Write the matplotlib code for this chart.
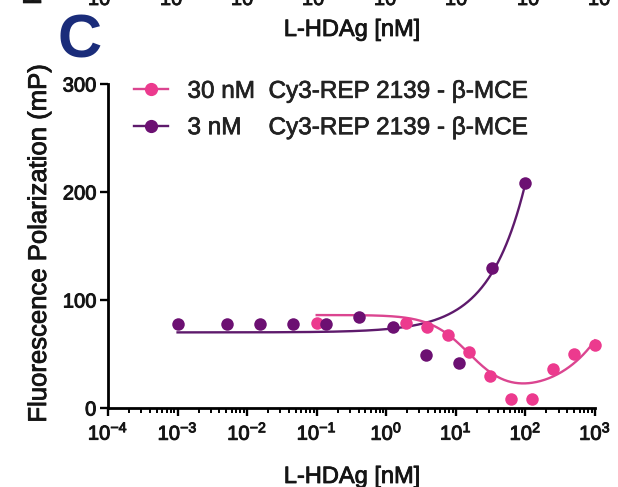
import numpy as np
import matplotlib
matplotlib.use("Agg")
import matplotlib.pyplot as plt
import matplotlib.patheffects as pe
from matplotlib.ticker import LogLocator, NullFormatter, FixedLocator
from matplotlib.lines import Line2D

plt.rcParams['font.family'] = ['Liberation Sans', 'DejaVu Sans']
plt.rcParams['mathtext.default'] = 'regular'

# ---------------- data ----------------
# 30 nM Cy3-REP 2139 (pink), 2-fold dilution series
pink_x = [0.1, 1.95, 3.9, 7.8, 15.6, 31.25, 62.5, 125, 250, 500, 1000]
pink_y = [79, 79, 75, 68, 52, 30, 8, 8, 36, 50, 58]
# 3 nM Cy3-REP 2139 (purple), 3-fold dilution series
purple_x = [0.001, 0.0051, 0.0152, 0.0457, 0.137, 0.41, 1.23, 3.7, 11.1, 33.3, 100]
purple_y = [78, 78, 78, 78, 78, 84, 75, 49, 42, 130, 208]

# fitted-curve parameters (as read from the drawn fits)
pink_fit = dict(top=86, bottom=7, ec50=16, hill=1.5, k=0.44, p=0.7, xmin=0.1, xmax=1000)
purple_fit = dict(base=70, k=3.02, n=0.83, xmin=0.001, xmax=100)

series_labels = ["30 nM  Cy3-REP 2139 - \u03b2-MCE", "3 nM    Cy3-REP 2139 - \u03b2-MCE"]
xtick_exps = list(range(-4, 4))
yticks = [0, 100, 200, 300]

PINK = "#EC3A8E"
PINK_LINE = "#DB4590"
PURPLE = "#6C1072"
PURPLE_LINE = "#5E1A6C"
TXT = "#151515"

W, H = 618, 487
fig = plt.figure(figsize=(W / 100, H / 100), dpi=100)
ax = fig.add_axes([108 / W, (H - 408) / H, (595 - 108) / W, (408 - 84) / H])

ax.set_xscale('log')
ax.set_xlim(1e-4, 1e3)
ax.set_ylim(0, 300)


def bold(t, w=0.6):
    t.set_path_effects([pe.withStroke(linewidth=w, foreground=t.get_color())])
    return t


# fitted curves
xc = np.logspace(np.log10(purple_fit['xmin']), np.log10(purple_fit['xmax']), 400)
yc = purple_fit['base'] + purple_fit['k'] * xc ** purple_fit['n']
ax.plot(xc, yc, color=PURPLE_LINE, lw=1.7, zorder=3, clip_on=False)

xp = np.logspace(np.log10(pink_fit['xmin']), np.log10(pink_fit['xmax']), 400)
yp = (pink_fit['bottom'] + (pink_fit['top'] - pink_fit['bottom']) /
      (1 + (xp / pink_fit['ec50']) ** pink_fit['hill']) + pink_fit['k'] * xp ** pink_fit['p'])
ax.plot(xp, yp, color=PINK_LINE, lw=1.7, zorder=3, clip_on=False)

ax.plot(pink_x, pink_y, 'o', color=PINK, ms=9, mew=0, zorder=4, clip_on=False)
ax.plot(purple_x, purple_y, 'o', color=PURPLE, ms=9, mew=0, zorder=5, clip_on=False)

# axes styling
for s in ['top', 'right']:
    ax.spines[s].set_visible(False)
for s in ['left', 'bottom']:
    ax.spines[s].set_linewidth(2.0)
    ax.spines[s].set_color('black')

ax.xaxis.set_major_locator(FixedLocator([10.0 ** e for e in xtick_exps]))
ax.set_xticklabels([r'$10^{%d}$' % e for e in xtick_exps])
ax.xaxis.set_minor_locator(LogLocator(base=10, subs=np.arange(2, 10), numticks=50))
ax.xaxis.set_minor_formatter(NullFormatter())
ax.set_yticks(yticks)
ax.set_yticklabels([str(v) for v in yticks])

ax.tick_params(axis='x', which='major', length=6, width=1.7, pad=4, labelsize=14.5,
               direction='out', labelcolor=TXT)
ax.tick_params(axis='x', which='minor', length=3.8, width=1.4, direction='out')
ax.tick_params(axis='y', which='major', length=5.5, width=1.7, pad=3, labelsize=14.5,
               direction='out', labelcolor=TXT)
for lab in ax.get_xticklabels() + ax.get_yticklabels():
    bold(lab, 0.7)

# labels
bold(fig.text(352 / W, 1 - 483 / H, "L-HDAg [nM]", ha='center', va='baseline',
              fontsize=17, color=TXT))
bold(fig.text(39 / W, 1 - 243 / H, "Fluorescence Polarization (mP)", rotation=90,
              ha='center', va='center', fontsize=18.5, color=TXT))

# panel letter
fig.text(58 / W, 1 - 58 / H, "C", ha='left', va='baseline', fontsize=44,
         fontweight='bold', color='#1A2C7A')

# remnants of the panel above (cropped at the top edge, as in the source)
bold(fig.text(352 / W, 1 - 36 / H, "L-HDAg [nM]", ha='center', va='baseline',
              fontsize=17, color=TXT))
for xpx in [99, 171, 242, 313, 385, 456, 528, 599]:
    bold(fig.text(xpx / W, 1 - 5 / H, "10", ha='center', va='baseline', fontsize=14.5, color=TXT))
bold(fig.text(41 / W, 1 - 5 / H, "Fluorescence Polarization (mP)", rotation=90,
              rotation_mode='anchor', ha='left', va='baseline', fontsize=18.5, color=TXT))

# legend
handles = [Line2D([], [], color=PINK_LINE, lw=1.7, marker='o', ms=8.5, mfc=PINK, mec=PINK),
           Line2D([], [], color=PURPLE_LINE, lw=1.7, marker='o', ms=8.5, mfc=PURPLE, mec=PURPLE)]
leg = ax.legend(handles, series_labels, loc='center left',
                bbox_to_anchor=(134 / W, 1 - 109.5 / H),
                bbox_transform=fig.transFigure, frameon=False, borderpad=0, borderaxespad=0,
                handlelength=1.4, handletextpad=0.8, labelspacing=0.55, fontsize=17.5,
                labelcolor='#222222')
for t in leg.get_texts():
    bold(t, 0.5)

fig.savefig("out.png", dpi=100)
